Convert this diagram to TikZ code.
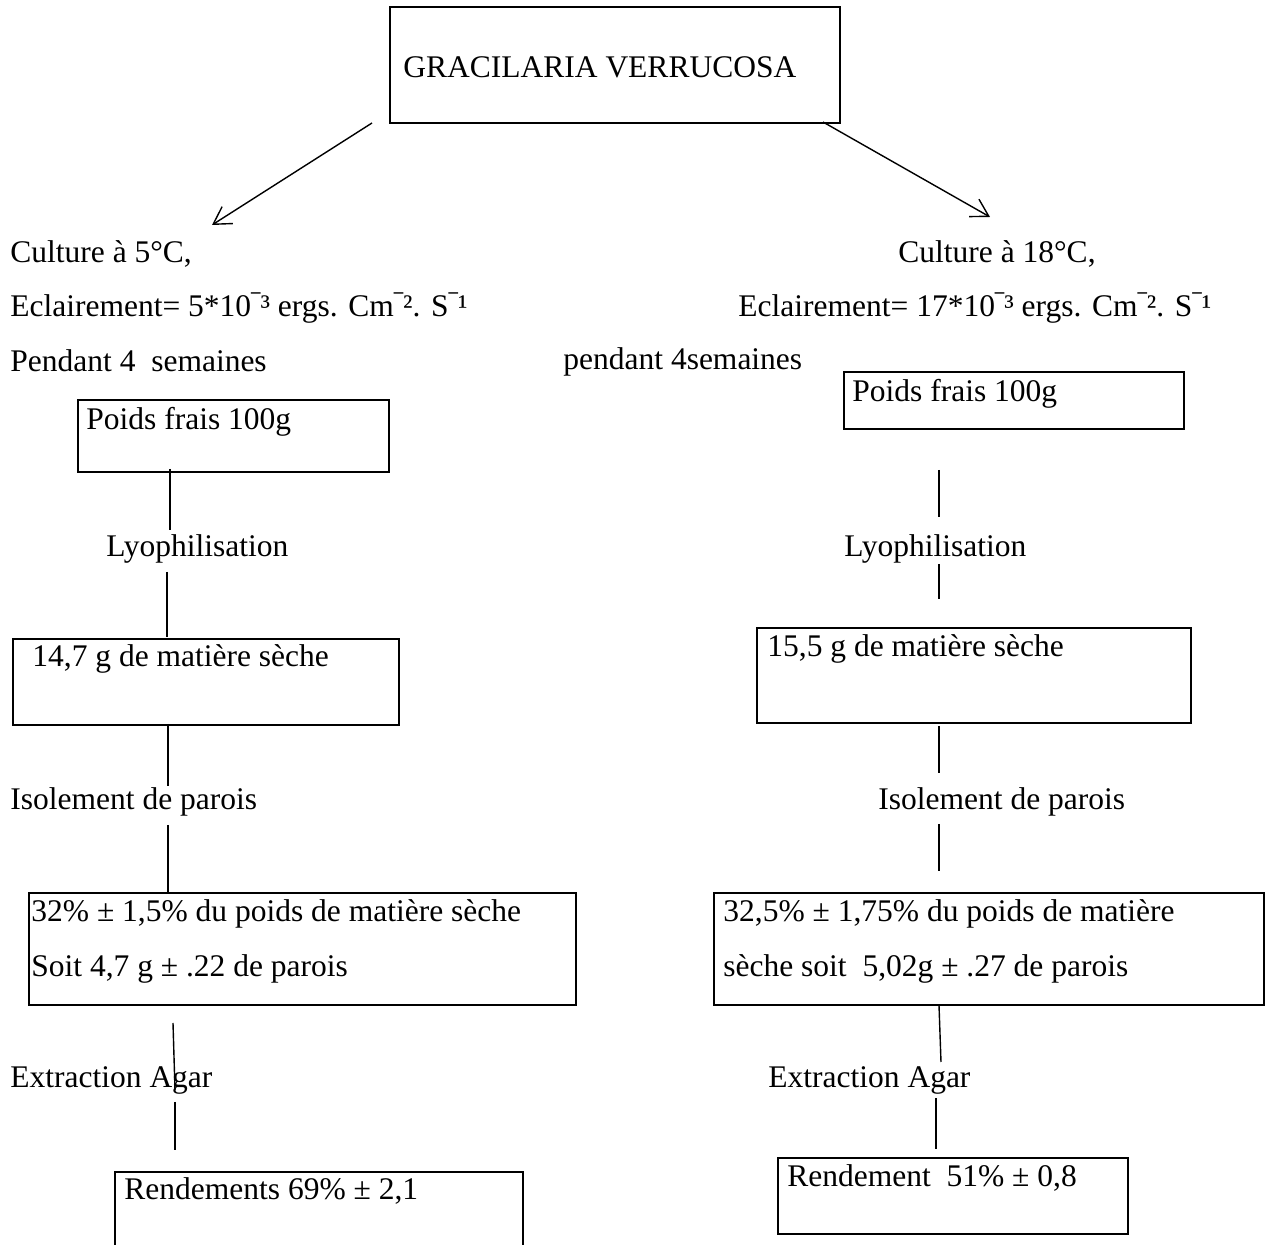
\documentclass[tikz,border=0pt]{standalone}
\usepackage{fontspec}
\setmainfont{Liberation Serif}
\usetikzlibrary{arrows.meta}
% short raised bar used as the minus sign of the exponents
\newcommand{\expbar}{\scalebox{0.6}[1]{¯}}
\begin{document}
\begin{tikzpicture}[x=0.5pt,y=-0.5pt,
  box/.style={draw, line width=1pt, inner sep=0pt, anchor=north west},
  txt/.style={anchor=base west, inner sep=0pt, font=\fontsize{15.75pt}{19pt}\selectfont},
  link/.style={line width=0.7pt},
  arr/.style={line width=0.7pt, -{Straight Barb[length=8.5pt,width=10pt]}}]
\useasboundingbox[fill=white] (0,0) rectangle (1266,1245);

% title box
\node[box, minimum width=225pt, minimum height=58pt] (top) at (389,6) {};
\node[txt] (title) at (403,78) {GRACILARIA VERRUCOSA};

% branch arrows
\coordinate (aL0) at (372,123);
\coordinate (aL1) at (212,225);
\coordinate (aR0) at (823,122);
\coordinate (aR1) at (990,217);
\draw[arr] (aL0) -- (aL1);
\draw[arr] (aR0) -- (aR1);

% ---- left branch: 5 degrees ----
\node[txt] (cL1) at (10,263) {Culture à 5°C,};
\node[txt] (cL2) at (10,317) {Eclairement= 5*10\expbar³ ergs. Cm\expbar². S\expbar¹};
\node[txt] (cL3) at (10,372) {Pendant 4~~semaines};

\node[box, minimum width=155.5pt, minimum height=36pt] (pL) at (77,399) {};
\node[txt] (pLt) at (86,430) {Poids frais 100g};
\coordinate (l1a) at (170,469); \coordinate (l1b) at (170,530);
\draw[link] (l1a) -- (l1b);
\node[txt] (lyL) at (106,557) {Lyophilisation};
\coordinate (l2a) at (167,572); \coordinate (l2b) at (167,637);
\draw[link] (l2a) -- (l2b);

\node[box, minimum width=193pt, minimum height=43pt] (sL) at (12,638) {};
\node[txt] (sLt) at (32,667) {14,7 g de matière sèche};
\coordinate (l3a) at (168,724); \coordinate (l3b) at (168,786);
\draw[link] (l3a) -- (l3b);
\node[txt] (isL) at (10,810) {Isolement de parois};
\coordinate (l4a) at (168,825); \coordinate (l4b) at (168,892);
\draw[link] (l4a) -- (l4b);

\node[box, minimum width=273.5pt, minimum height=56pt] (wL) at (28,892) {};
\node[txt] (wLt1) at (31,922) {32\% ± 1,5\% du poids de matière sèche};
\node[txt] (wLt2) at (31,977) {Soit 4,7 g ± .22 de parois};
\coordinate (l5a) at (173,1023); \coordinate (l5b) at (175,1090);
\draw[link] (l5a) -- (l5b);
\node[txt] (exL) at (10,1088) {Extraction Agar};
\coordinate (l6a) at (175,1102); \coordinate (l6b) at (175,1150);
\draw[link] (l6a) -- (l6b);

\node[box, minimum width=204pt, minimum height=44.5pt] (rL) at (114,1171) {};
\node[txt] (rLt) at (124,1200) {Rendements 69\% ± 2,1};

% ---- right branch: 18 degrees ----
\node[txt] (cR1) at (898,263) {Culture à 18°C,};
\node[txt] (cR2) at (738,317) {Eclairement= 17*10\expbar³ ergs. Cm\expbar². S\expbar¹};
\node[txt] (cR3) at (563,370) {pendant 4semaines};

\node[box, minimum width=170pt, minimum height=28.5pt] (pR) at (843,371) {};
\node[txt] (pRt) at (852,402) {Poids frais 100g};
\coordinate (r1a) at (939,470); \coordinate (r1b) at (939,517);
\draw[link] (r1a) -- (r1b);
\node[txt] (lyR) at (844,557) {Lyophilisation};
\coordinate (r2a) at (939,564); \coordinate (r2b) at (939,599);
\draw[link] (r2a) -- (r2b);

\node[box, minimum width=217pt, minimum height=47.5pt] (sR) at (756,627) {};
\node[txt] (sRt) at (767,657) {15,5 g de matière sèche};
\coordinate (r3a) at (939,726); \coordinate (r3b) at (939,773);
\draw[link] (r3a) -- (r3b);
\node[txt] (isR) at (878,810) {Isolement de parois};
\coordinate (r4a) at (939,824); \coordinate (r4b) at (939,871);
\draw[link] (r4a) -- (r4b);

\node[box, minimum width=275pt, minimum height=56pt] (wR) at (713,892) {};
\node[txt] (wRt1) at (723,922) {32,5\% ± 1,75\% du poids de matière};
\node[txt] (wRt2) at (723,977) {sèche soit~~5,02g ± .27 de parois};
\coordinate (r5a) at (939,1005); \coordinate (r5b) at (941,1062);
\draw[link] (r5a) -- (r5b);
\node[txt] (exR) at (768,1088) {Extraction Agar};
\coordinate (r6a) at (936,1098); \coordinate (r6b) at (936,1149);
\draw[link] (r6a) -- (r6b);

\node[box, minimum width=175pt, minimum height=38pt] (rR) at (777,1157) {};
\node[txt] (rRt) at (787,1187) {Rendement~~51\% ± 0,8};
\end{tikzpicture}
\end{document}
